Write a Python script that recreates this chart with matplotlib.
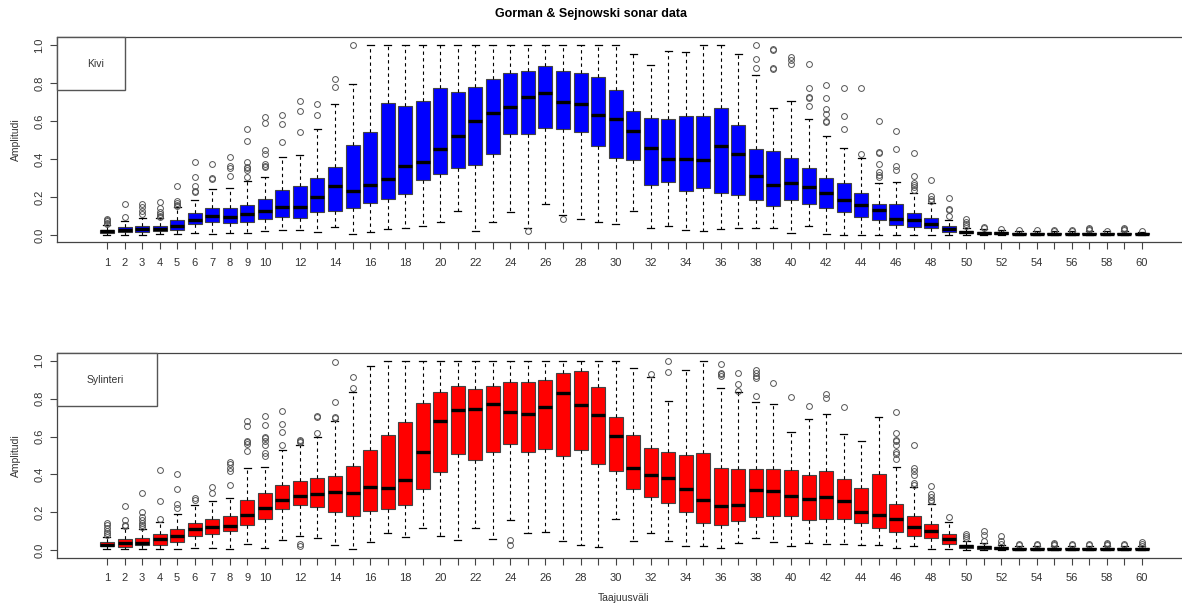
import matplotlib
matplotlib.use("Agg")
import matplotlib.pyplot as plt
from matplotlib.patches import Rectangle

plt.rcParams['font.family'] = ['Liberation Sans', 'DejaVu Sans']

# band numbers
bands = list(range(1, 61))
tick_labels = [str(b) if (b <= 10 or b % 2 == 0) else '' for b in bands]

# --- Kivi (rock) ---
kivi_lo = [0.002, 0.001, 0.002, 0.006, 0.007, 0.012, 0.004, 0.009, 0.009, 0.021,
           0.028, 0.025, 0.014, 0.042, 0.004, 0.016, 0.032, 0.037, 0.049, 0.067,
           0.125, 0.018, 0.067, 0.122, 0.039, 0.164, 0.104, 0.083, 0.069, 0.060,
           0.127, 0.039, 0.049, 0.028, 0.021, 0.032, 0.037, 0.037, 0.037, 0.009,
           0.048, 0.007, 0.001, 0.001, 0.001, 0.001, 0.001, 0.001, 0.001, 0.002,
           0.001, 0.001, 0.001, 0.001, 0.001, 0.001, 0.001, 0.001, 0.001, 0.001]
kivi_q1 = [0.012, 0.013, 0.015, 0.020, 0.026, 0.060, 0.070, 0.065, 0.070, 0.086,
           0.092, 0.088, 0.122, 0.125, 0.141, 0.169, 0.190, 0.217, 0.287, 0.321,
           0.353, 0.367, 0.427, 0.534, 0.531, 0.563, 0.559, 0.541, 0.471, 0.406,
           0.392, 0.261, 0.279, 0.229, 0.245, 0.222, 0.212, 0.185, 0.153, 0.185,
           0.164, 0.141, 0.123, 0.093, 0.081, 0.051, 0.044, 0.037, 0.014, 0.009,
           0.006, 0.005, 0.004, 0.004, 0.004, 0.004, 0.004, 0.004, 0.004, 0.004]
kivi_med = [0.019, 0.024, 0.030, 0.033, 0.048, 0.079, 0.100, 0.095, 0.108, 0.125,
            0.146, 0.148, 0.198, 0.256, 0.231, 0.263, 0.293, 0.365, 0.386, 0.453,
            0.519, 0.600, 0.640, 0.674, 0.727, 0.750, 0.700, 0.690, 0.630, 0.612,
            0.550, 0.460, 0.402, 0.400, 0.392, 0.466, 0.425, 0.309, 0.265, 0.272,
            0.250, 0.219, 0.185, 0.159, 0.129, 0.085, 0.079, 0.056, 0.032, 0.016,
            0.010, 0.008, 0.007, 0.007, 0.007, 0.007, 0.007, 0.007, 0.007, 0.007]
kivi_q3 = [0.028, 0.040, 0.045, 0.048, 0.079, 0.115, 0.143, 0.143, 0.159, 0.189,
           0.235, 0.256, 0.300, 0.360, 0.474, 0.541, 0.693, 0.677, 0.705, 0.772,
           0.755, 0.780, 0.822, 0.852, 0.866, 0.891, 0.866, 0.852, 0.832, 0.765,
           0.651, 0.617, 0.608, 0.624, 0.626, 0.667, 0.578, 0.455, 0.441, 0.404,
           0.353, 0.302, 0.272, 0.222, 0.164, 0.162, 0.118, 0.088, 0.049, 0.023,
           0.016, 0.013, 0.011, 0.011, 0.011, 0.011, 0.011, 0.011, 0.011, 0.011]
kivi_hi = [0.050, 0.075, 0.090, 0.090, 0.145, 0.183, 0.243, 0.247, 0.286, 0.303,
           0.413, 0.423, 0.556, 0.691, 0.797, 1.000, 1.000, 1.000, 1.000, 1.000,
           1.000, 1.000, 1.000, 1.000, 1.000, 1.000, 1.000, 1.000, 1.000, 1.000,
           0.952, 0.894, 0.970, 0.963, 1.000, 1.000, 0.952, 0.841, 0.668, 0.705,
           0.608, 0.522, 0.459, 0.404, 0.272, 0.280, 0.222, 0.168, 0.079, 0.035,
           0.030, 0.024, 0.020, 0.020, 0.020, 0.020, 0.020, 0.018, 0.020, 0.017]
kivi_out = [[0.058, 0.065, 0.072, 0.078, 0.085], [0.095, 0.165],
            [0.11, 0.125, 0.145, 0.165], [0.095, 0.10, 0.11, 0.12, 0.14, 0.175],
            [0.15, 0.16, 0.17, 0.18, 0.256], [0.224, 0.23, 0.256, 0.307, 0.383],
            [0.295, 0.30, 0.372], [0.309, 0.35, 0.365, 0.41],
            [0.303, 0.34, 0.35, 0.356, 0.383, 0.496, 0.56],
            [0.356, 0.365, 0.374, 0.427, 0.448, 0.589, 0.621],
            [0.489, 0.582, 0.633], [0.54, 0.653, 0.705], [0.631, 0.688],
            [0.78, 0.82], [1.0], [], [], [], [], [], [], [], [], [],
            [0.021], [], [0.086], [], [], [], [], [], [], [], [], [], [],
            [0.88, 0.926, 1.0], [0.873, 0.88, 0.975, 0.98], [0.90, 0.92, 0.935],
            [0.679, 0.72, 0.727, 0.774, 0.90],
            [0.593, 0.598, 0.638, 0.661, 0.723, 0.792], [0.559, 0.626, 0.774],
            [0.427, 0.776], [0.303, 0.316, 0.33, 0.374, 0.432, 0.439, 0.60],
            [0.342, 0.363, 0.45, 0.55], [0.236, 0.25, 0.263, 0.272, 0.309, 0.432],
            [0.18, 0.189, 0.205, 0.289], [0.10, 0.132, 0.139, 0.196],
            [0.046, 0.056, 0.07, 0.083], [0.035, 0.04], [0.032], [0.025],
            [0.026], [0.022, 0.027], [0.022, 0.027], [0.025, 0.03, 0.035],
            [0.022], [0.025, 0.03, 0.035], [0.021]]

# --- Sylinteri (mine) ---
syl_lo = [0.005, 0.005, 0.005, 0.009, 0.010, 0.014, 0.014, 0.009, 0.035, 0.014,
          0.054, 0.074, 0.065, 0.028, 0.010, 0.046, 0.091, 0.070, 0.118, 0.077,
          0.056, 0.118, 0.058, 0.161, 0.091, 0.095, 0.051, 0.030, 0.019, 0.168,
          0.051, 0.091, 0.051, 0.025, 0.025, 0.012, 0.037, 0.065, 0.046, 0.025,
          0.037, 0.035, 0.035, 0.026, 0.028, 0.011, 0.025, 0.009, 0.009, 0.003,
          0.002, 0.002, 0.002, 0.002, 0.002, 0.002, 0.002, 0.002, 0.002, 0.002]
syl_q1 = [0.021, 0.018, 0.026, 0.030, 0.044, 0.075, 0.089, 0.100, 0.135, 0.168,
          0.219, 0.239, 0.228, 0.202, 0.179, 0.205, 0.218, 0.240, 0.323, 0.412,
          0.509, 0.475, 0.516, 0.558, 0.516, 0.535, 0.500, 0.528, 0.456, 0.416,
          0.323, 0.284, 0.251, 0.200, 0.142, 0.135, 0.156, 0.175, 0.180, 0.181,
          0.160, 0.168, 0.168, 0.142, 0.116, 0.095, 0.077, 0.063, 0.035, 0.014,
          0.010, 0.008, 0.005, 0.005, 0.005, 0.005, 0.005, 0.005, 0.005, 0.005]
syl_med = [0.028, 0.037, 0.040, 0.060, 0.077, 0.112, 0.125, 0.130, 0.186, 0.226,
           0.267, 0.289, 0.295, 0.310, 0.305, 0.332, 0.328, 0.372, 0.521, 0.681,
           0.742, 0.746, 0.772, 0.728, 0.718, 0.758, 0.828, 0.767, 0.714, 0.605,
           0.432, 0.396, 0.381, 0.325, 0.267, 0.233, 0.240, 0.316, 0.313, 0.289,
           0.270, 0.281, 0.258, 0.204, 0.188, 0.167, 0.121, 0.102, 0.060, 0.022,
           0.016, 0.013, 0.010, 0.009, 0.009, 0.009, 0.009, 0.009, 0.009, 0.009]
syl_q3 = [0.042, 0.060, 0.065, 0.086, 0.114, 0.146, 0.163, 0.182, 0.263, 0.302,
          0.346, 0.365, 0.382, 0.393, 0.446, 0.530, 0.608, 0.675, 0.775, 0.835,
          0.868, 0.851, 0.868, 0.886, 0.886, 0.898, 0.935, 0.947, 0.863, 0.702,
          0.607, 0.540, 0.518, 0.502, 0.511, 0.432, 0.430, 0.428, 0.429, 0.425,
          0.398, 0.419, 0.375, 0.328, 0.405, 0.242, 0.182, 0.140, 0.089, 0.030,
          0.024, 0.018, 0.014, 0.013, 0.013, 0.013, 0.013, 0.013, 0.013, 0.013]
syl_hi = [0.072, 0.120, 0.114, 0.151, 0.191, 0.240, 0.258, 0.277, 0.435, 0.440,
          0.528, 0.553, 0.596, 0.682, 0.837, 0.972, 1.000, 1.000, 1.000, 1.000,
          1.000, 1.000, 1.000, 1.000, 1.000, 1.000, 1.000, 1.000, 1.000, 1.000,
          0.963, 0.916, 0.789, 0.951, 1.000, 0.854, 0.832, 0.781, 0.770, 0.626,
          0.691, 0.718, 0.614, 0.575, 0.702, 0.442, 0.332, 0.247, 0.150, 0.050,
          0.040, 0.030, 0.024, 0.022, 0.022, 0.022, 0.022, 0.022, 0.022, 0.022]
syl_out = [[0.079, 0.091, 0.104, 0.118, 0.135, 0.144], [0.126, 0.133, 0.161, 0.235],
           [0.121, 0.135, 0.147, 0.161, 0.175, 0.20, 0.305], [0.167, 0.258, 0.425],
           [0.226, 0.244, 0.323, 0.404], [0.265, 0.275], [0.30, 0.332],
           [0.346, 0.419, 0.433, 0.456, 0.465],
           [0.526, 0.56, 0.57, 0.577, 0.656, 0.682],
           [0.495, 0.512, 0.556, 0.574, 0.591, 0.60, 0.66, 0.709],
           [0.556, 0.623, 0.667, 0.735], [0.023, 0.035, 0.57, 0.575, 0.58],
           [0.618, 0.705, 0.71], [0.698, 0.703, 0.784, 0.991], [0.854, 0.912],
           [], [], [], [], [], [], [], [], [0.03, 0.054], [], [], [], [], [], [],
           [], [0.928], [0.942, 1.0], [], [], [0.92, 0.928, 0.935, 0.982],
           [0.84, 0.877, 0.937], [0.816, 0.907, 0.92, 0.935, 0.95], [0.88],
           [0.81], [0.763], [0.802, 0.826], [0.753], [], [],
           [0.481, 0.507, 0.521, 0.556, 0.574, 0.582, 0.621, 0.728],
           [0.346, 0.354, 0.395, 0.416, 0.433, 0.553],
           [0.258, 0.267, 0.279, 0.298, 0.337], [0.174],
           [0.065, 0.074, 0.088], [0.047, 0.082, 0.10], [0.035, 0.047, 0.074],
           [0.03, 0.035], [0.03, 0.035], [0.028, 0.035, 0.04], [0.03, 0.035],
           [0.028, 0.035], [0.03, 0.035, 0.04], [0.03, 0.035],
           [0.025, 0.035, 0.045]]

W, H = 1182, 610
fig = plt.figure(figsize=(W / 100, H / 100), dpi=100)


def panel(top_px, lo, q1, med, q3, hi, out, color, name, box_right_px, text_x_px):
    bottom_px = top_px + 205
    ax = fig.add_axes([57 / W, 1 - bottom_px / H, (1190 - 57) / W, 205 / H])
    stats = []
    for i in range(len(bands)):
        stats.append(dict(whislo=lo[i], q1=q1[i], med=med[i], q3=q3[i],
                          whishi=hi[i], fliers=out[i]))
    ax.bxp(stats, positions=bands, widths=0.8, capwidths=0.4,
           patch_artist=True, manage_ticks=False,
           boxprops=dict(facecolor=color, edgecolor='#444444', linewidth=0.8),
           medianprops=dict(color='black', linewidth=2.4, solid_capstyle='butt'),
           whiskerprops=dict(color='black', linewidth=0.8, linestyle=(0, (3, 3))),
           capprops=dict(color='black', linewidth=0.9),
           flierprops=dict(marker='o', markerfacecolor='none',
                           markeredgecolor='#555555', markersize=4.2,
                           markeredgewidth=0.7))
    ax.set_xlim(-1.85, 62.75)
    ax.set_ylim(-0.04, 1.04)
    ax.set_xticks(bands)
    ax.set_xticklabels(tick_labels)
    ax.set_yticks([0.0, 0.2, 0.4, 0.6, 0.8, 1.0])
    ax.set_yticklabels(['0.0', '0.2', '0.4', '0.6', '0.8', '1.0'],
                       rotation=90, va='center')
    ax.tick_params(axis='both', length=5, width=0.8, color='#444444',
                   labelsize=8, labelcolor='#333333')
    ax.tick_params(axis='x', pad=6)
    ax.tick_params(axis='y', pad=4)
    for s in ['top', 'bottom', 'left']:
        ax.spines[s].set_color('#444444')
        ax.spines[s].set_linewidth(0.9)
    ax.spines['right'].set_visible(False)
    ax.set_ylabel('Amplitudi', fontsize=7.5, color='#333333')
    ax.yaxis.set_label_coords((21 - 57) / 1133, 0.5)
    # legend box
    ax_w = 1133
    legend_h = 53 / 205
    ax.add_patch(Rectangle((0, 1 - legend_h), (box_right_px - 57) / ax_w, legend_h,
                           transform=ax.transAxes, facecolor='white',
                           edgecolor='#555555', linewidth=1.0, zorder=5,
                           clip_on=False))
    ax.text((text_x_px - 57) / ax_w, 1 - 27 / 205, name, transform=ax.transAxes,
            ha='center', va='center', fontsize=7.5, color='#333333', zorder=6)
    return ax


panel(37.5, kivi_lo, kivi_q1, kivi_med, kivi_q3, kivi_hi, kivi_out,
      '#0000ff', 'Kivi', 125, 96)
panel(353, syl_lo, syl_q1, syl_med, syl_q3, syl_hi, syl_out,
      '#ff0000', 'Sylinteri', 157, 105.5)

fig.text(591 / W, 1 - 14 / H, 'Gorman & Sejnowski sonar data', ha='center',
         va='center', fontsize=9, fontweight='bold', color='black')
fig.text(624 / W, 1 - 598 / H, 'Taajuusväli', ha='center', va='center',
         fontsize=7.5, color='#333333')

fig.savefig('out.png', dpi=100)
